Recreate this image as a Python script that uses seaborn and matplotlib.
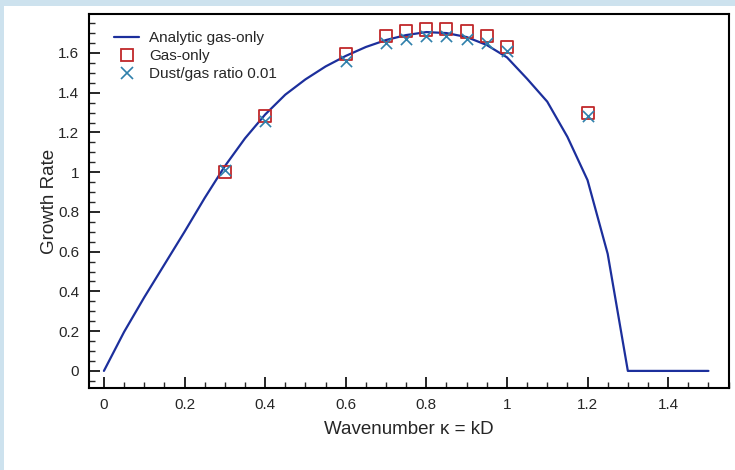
import numpy as np
import pandas as pd
import matplotlib
matplotlib.use("Agg")
import matplotlib.pyplot as plt
import matplotlib.ticker as mticker
from matplotlib.patches import Rectangle
from matplotlib.lines import Line2D
import seaborn as sns

# Analytic gas-only growth-rate curve
kappa_curve = [0.0, 0.05, 0.1, 0.15, 0.2, 0.25, 0.3, 0.35, 0.4, 0.45, 0.5, 0.55,
               0.6, 0.65, 0.7, 0.75, 0.8, 0.85, 0.9, 0.95, 1.0, 1.05, 1.1, 1.15,
               1.2, 1.25, 1.3, 1.35, 1.4, 1.45, 1.5]
rate_curve = [0.0, 0.196, 0.37, 0.535, 0.70, 0.87, 1.03, 1.17, 1.29, 1.39, 1.467, 1.532,
              1.585, 1.63, 1.665, 1.69, 1.705, 1.70, 1.68, 1.64, 1.578, 1.47, 1.355, 1.178,
              0.96, 0.589, 0.0, 0.0, 0.0, 0.0, 0.0]

# Simulation points
kappa_sim = [0.3, 0.4, 0.6, 0.7, 0.75, 0.8, 0.85, 0.9, 0.95, 1.0, 1.2]
rate_gas = [1.00, 1.285, 1.595, 1.685, 1.71, 1.718, 1.72, 1.708, 1.684, 1.628, 1.30]
rate_dust = [1.01, 1.258, 1.56, 1.65, 1.672, 1.684, 1.685, 1.67, 1.652, 1.61, 1.283]

line_color = "#1c2f9c"
gas_color = "#c0282a"
dust_color = "#2f80ab"

sns.set_style("ticks")
plt.rcParams["font.family"] = ["Liberation Sans", "DejaVu Sans"]

fig = plt.figure(figsize=(7.35, 4.7), dpi=100, facecolor="#cde2ee")
fig.patches.append(Rectangle((0.006, 0.0), 0.994, 0.988, transform=fig.transFigure,
                             facecolor="white", edgecolor="none", zorder=-5))
ax = fig.add_axes([89 / 735, 1 - 388 / 470, 640 / 735, 374 / 470])

curve = pd.DataFrame({"kappa": kappa_curve, "rate": rate_curve})
sim = pd.DataFrame({"kappa": kappa_sim, "gas": rate_gas, "dust": rate_dust})

sns.lineplot(data=curve, x="kappa", y="rate", ax=ax, color=line_color, linewidth=1.6,
             legend=False)
sns.scatterplot(data=sim, x="kappa", y="gas", ax=ax, marker="s", s=75,
                facecolors="none", edgecolor=gas_color, linewidth=1.3,
                legend=False, zorder=3)
sns.scatterplot(data=sim, x="kappa", y="dust", ax=ax, marker="x", s=65,
                color=dust_color, linewidth=1.2, legend=False, zorder=4)

ax.set_xlim(-0.037, 1.551)
ax.set_ylim(-0.086, 1.796)
ax.xaxis.set_major_locator(mticker.MultipleLocator(0.2))
ax.xaxis.set_minor_locator(mticker.MultipleLocator(0.05))
ax.yaxis.set_major_locator(mticker.MultipleLocator(0.2))
ax.yaxis.set_minor_locator(mticker.MultipleLocator(0.05))
fmt = mticker.FuncFormatter(lambda v, p: "%g" % round(v, 2))
ax.xaxis.set_major_formatter(fmt)
ax.yaxis.set_major_formatter(fmt)
ax.tick_params(which="major", direction="in", length=8, width=1.4, labelsize=11, pad=7)
ax.tick_params(which="minor", direction="in", length=4, width=1.0)
for s in ax.spines.values():
    s.set_linewidth(1.5)
    s.set_color("black")

ax.set_xlabel("Wavenumber \u03ba = kD", fontsize=13.5, labelpad=7)
ax.set_ylabel("Growth Rate", fontsize=13.5, labelpad=0)

handles = [
    Line2D([], [], color=line_color, linewidth=1.6),
    Line2D([], [], linestyle="none", marker="s", markersize=8.5, markerfacecolor="none",
           markeredgecolor=gas_color, markeredgewidth=1.3),
    Line2D([], [], linestyle="none", marker="x", markersize=8, color=dust_color,
           markeredgewidth=1.2),
]
labels = ["Analytic gas-only", "Gas-only", "Dust/gas ratio 0.01"]
ax.legend(handles, labels, loc="upper left", frameon=False, fontsize=11,
          handlelength=1.65, handletextpad=0.65, labelspacing=0.25,
          borderaxespad=0.0, bbox_to_anchor=(0.0297, 0.97))

fig.savefig("out.png", dpi=100, facecolor=fig.get_facecolor())
